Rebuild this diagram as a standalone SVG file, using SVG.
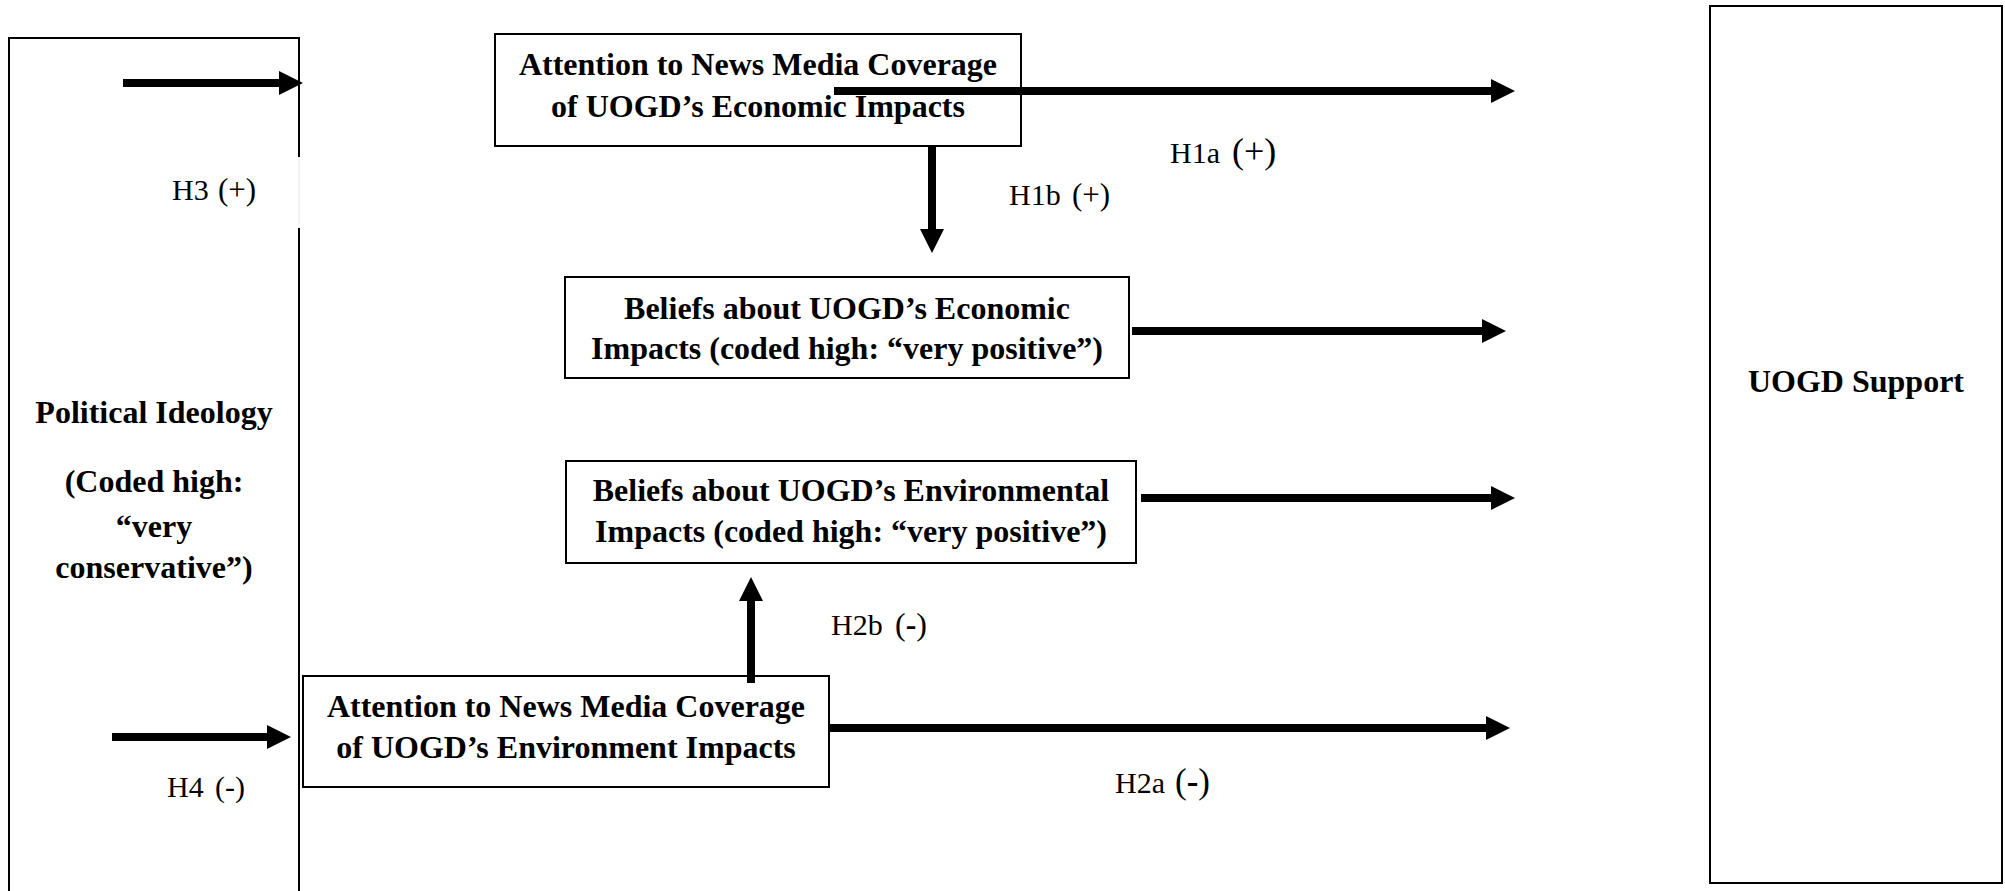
<svg xmlns="http://www.w3.org/2000/svg" width="2005" height="891" viewBox="0 0 2005 891">
<defs>
<style>
.box{fill:#fff;stroke:#000;stroke-width:2}
.edge{fill:none;stroke:#000;stroke-width:2}
.nt{font-family:"Liberation Serif","Times New Roman",serif;font-weight:bold;font-size:32px;fill:#000;text-anchor:middle}
.lb{font-family:"Liberation Serif","Times New Roman",serif;font-size:30px;fill:#000}
.conn{stroke:#000;stroke-width:8;fill:none;marker-end:url(#ah)}
</style>
<marker id="ah" markerUnits="userSpaceOnUse" markerWidth="24" markerHeight="24" refX="0" refY="12" orient="auto" viewBox="0 0 24 24">
<path d="M0,0 L24,12 L0,24 Z" fill="#000"/>
</marker>
</defs>
<rect width="2005" height="891" fill="#fff"/>

<g id="political-ideology">
<path class="edge" d="M9,900 V38 H299 V157 M299,228 V900"/>
<path d="M299,157 V228" stroke="#e6e6e6" stroke-width="1" fill="none"/>
<text class="nt" x="154" y="423">Political Ideology</text>
<text class="nt" x="154" y="492">(Coded high:</text>
<text class="nt" x="154" y="537">“very</text>
<text class="nt" x="154" y="578">conservative”)</text>
</g>

<g id="attention-economic">
<rect class="box" x="495" y="34" width="526" height="112"/>
<text class="nt" x="758" y="75">Attention to News Media Coverage</text>
<text class="nt" x="758" y="117">of UOGD’s Economic Impacts</text>
</g>

<g id="beliefs-economic">
<rect class="box" x="565" y="277" width="564" height="101"/>
<text class="nt" x="847" y="319">Beliefs about UOGD’s Economic</text>
<text class="nt" x="847" y="359">Impacts (coded high: “very positive”)</text>
</g>

<g id="beliefs-environmental">
<rect class="box" x="566" y="461" width="570" height="102"/>
<text class="nt" x="851" y="501">Beliefs about UOGD’s Environmental</text>
<text class="nt" x="851" y="542">Impacts (coded high: “very positive”)</text>
</g>

<g id="attention-environment">
<rect class="box" x="303" y="676" width="526" height="111"/>
<text class="nt" x="566" y="717">Attention to News Media Coverage</text>
<text class="nt" x="566" y="758">of UOGD’s Environment Impacts</text>
</g>

<g id="uogd-support">
<rect class="box" x="1710" y="6" width="292" height="877"/>
<text class="nt" x="1856" y="392">UOGD Support</text>
</g>

<g id="connectors">
<line class="conn" x1="123" y1="83" x2="279" y2="83"/>
<line class="conn" x1="834" y1="91" x2="1491" y2="91"/>
<line class="conn" x1="932" y1="146" x2="932" y2="229"/>
<line class="conn" x1="1132" y1="331" x2="1482" y2="331"/>
<line class="conn" x1="1141" y1="498" x2="1491" y2="498"/>
<line class="conn" x1="751" y1="683" x2="751" y2="601"/>
<line class="conn" x1="112" y1="737" x2="267" y2="737"/>
<line class="conn" x1="829" y1="728" x2="1486" y2="728"/>
</g>

<g id="labels">
<text class="lb" x="172" y="200">H3 <tspan x="218" font-size="31">(+)</tspan></text>
<text class="lb" x="1170" y="163" font-size="32">H1a <tspan x="1232" font-size="36">(+)</tspan></text>
<text class="lb" x="1009" y="205">H1b <tspan x="1072" font-size="31">(+)</tspan></text>
<text class="lb" x="831" y="635">H2b <tspan x="895" font-size="32">(<tspan font-weight="bold">-</tspan>)</tspan></text>
<text class="lb" x="167" y="797">H4 <tspan x="215">(-)</tspan></text>
<text class="lb" x="1115" y="793">H2a <tspan x="1175" font-size="35">(<tspan font-weight="bold">-</tspan>)</tspan></text>
</g>
</svg>
